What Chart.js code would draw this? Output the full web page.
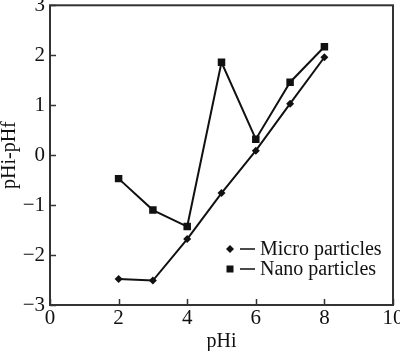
<!DOCTYPE html>
<html>
<head>
<meta charset="utf-8">
<script src="https://cdn.jsdelivr.net/npm/chart.js@4/dist/chart.umd.min.js"></script>
<style>
  html, body { margin: 0; padding: 0; background: #fff; }
  #wrap { width: 400px; height: 351px; }
</style>
</head>
<body>
<div id="wrap"><canvas id="myChart" width="400" height="351"></canvas></div>
<script>
const phInitial = [2, 3, 4, 5, 6, 7, 8];
const microValues = [-2.48, -2.51, -1.68, -0.76, 0.09, 1.03, 1.96];
const nanoValues = [-0.47, -1.1, -1.43, 1.86, 0.32, 1.46, 2.17];
const seriesNames = ["Micro particles", "Nano particles"];
const xTicks = [0, 2, 4, 6, 8, 10];
const yTicks = [-3, -2, -1, 0, 1, 2, 3];

const serif = "'Liberation Serif', 'DejaVu Serif', serif";
const ink = "#111";

const toPoints = (vals) => phInitial.map((x, i) => ({ x: x, y: vals[i] }));

// frame, inward ticks and the little in-plot legend
const framePlugin = {
  id: "frame",
  afterDraw(chart) {
    const ctx = chart.ctx;
    const a = chart.chartArea;
    const xs = chart.scales.x;
    const ys = chart.scales.y;
    ctx.save();
    ctx.strokeStyle = "#333";
    ctx.lineWidth = 2;
    ctx.strokeRect(a.left, a.top, a.right - a.left, a.bottom - a.top);
    ctx.lineWidth = 1.5;
    ctx.beginPath();
    xTicks.forEach(v => {
      const px = Math.round(xs.getPixelForValue(v)) + 0.5;
      ctx.moveTo(px, a.bottom);
      ctx.lineTo(px, a.bottom - 6);
    });
    yTicks.forEach(v => {
      const py = Math.round(ys.getPixelForValue(v)) + 0.5;
      ctx.moveTo(a.left, py);
      ctx.lineTo(a.left + 6, py);
    });
    ctx.stroke();

    // legend
    ctx.font = "20px " + serif;
    ctx.textBaseline = "middle";
    ctx.fillStyle = ink;
    chart.data.datasets.forEach((ds, i) => {
      const y = 249 + i * 20;
      const mx = 230;
      ctx.beginPath();
      if (ds.pointStyle === "rect") {
        ctx.rect(mx - 3.5, y - 3.5, 7, 7);
      } else {
        ctx.moveTo(mx, y - 4);
        ctx.lineTo(mx + 4, y);
        ctx.lineTo(mx, y + 4);
        ctx.lineTo(mx - 4, y);
        ctx.closePath();
      }
      ctx.fill();
      ctx.fillRect(240, y - 0.75, 15, 1.5);
      ctx.fillText(ds.label, 260, y + 1);
    });
    ctx.restore();
  }
};

const noPad = (scale) => {
  scale.paddingTop = 0;
  scale.paddingBottom = 0;
  scale.paddingLeft = 0;
  scale.paddingRight = 0;
};

const myChart = new Chart("myChart", {
  type: "line",
  data: {
    datasets: [
      {
        label: seriesNames[0],
        data: toPoints(microValues),
        borderColor: ink,
        backgroundColor: ink,
        borderWidth: 2,
        pointStyle: "rectRot",
        pointRadius: 4,
        pointBorderWidth: 0,
        tension: 0
      },
      {
        label: seriesNames[1],
        data: toPoints(nanoValues),
        borderColor: ink,
        backgroundColor: ink,
        borderWidth: 2,
        pointStyle: "rect",
        pointRadius: 5.3,
        pointBorderWidth: 0,
        tension: 0
      }
    ]
  },
  options: {
    responsive: false,
    animation: false,
    layout: { padding: { top: 5, right: 7, left: 0, bottom: 0 } },
    plugins: {
      legend: { display: false },
      tooltip: { enabled: false }
    },
    scales: {
      x: {
        type: "linear",
        min: 0,
        max: 10,
        afterBuildTicks: (s) => { s.ticks = xTicks.map(v => ({ value: v })); },
        afterFit: (s) => { s.height = 46; noPad(s); },
        grid: { display: false, drawTicks: false },
        border: { display: false },
        ticks: {
          color: ink,
          padding: 3,
          maxRotation: 0,
          font: { family: serif, size: 21, lineHeight: 1 }
        },
        title: {
          display: true,
          text: "pHi",
          color: ink,
          padding: { top: 0, bottom: -1 },
          font: { family: serif, size: 20, lineHeight: 1 }
        }
      },
      y: {
        min: -3,
        max: 3,
        afterBuildTicks: (s) => { s.ticks = yTicks.map(v => ({ value: v })); },
        afterFit: (s) => { s.width = 50; noPad(s); },
        grid: { display: false, drawTicks: false },
        border: { display: false },
        ticks: {
          color: ink,
          padding: 5,
          font: { family: serif, size: 21, lineHeight: 1 },
          callback: (v) => String(v).replace("-", "\u2212")
        },
        title: {
          display: true,
          text: "pHi-pHf",
          color: ink,
          padding: { top: 0, bottom: 0 },
          font: { family: serif, size: 20, lineHeight: 1 }
        }
      }
    }
  },
  plugins: [framePlugin]
});
</script>
</body>
</html>
